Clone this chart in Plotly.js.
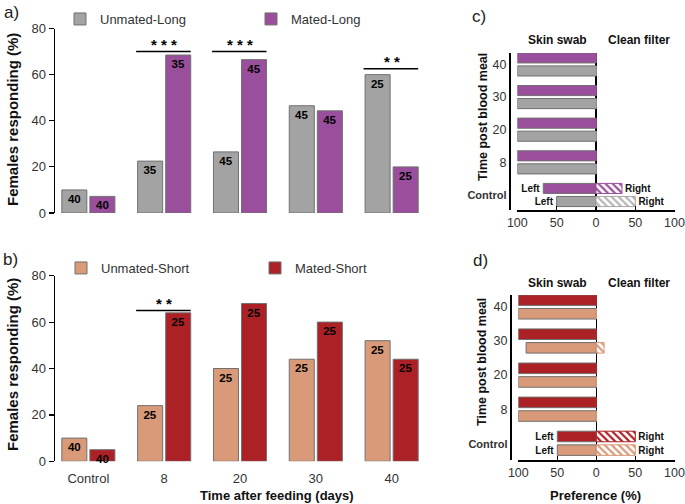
<!DOCTYPE html>
<html><head><meta charset="utf-8">
<script src="https://cdn.plot.ly/plotly-3.0.1.min.js"></script>
<style>html,body{margin:0;padding:0;background:#fff}</style>
</head><body><div id="chart" style="width:685px;height:504px"></div>
<script>
// ---------- data ----------
const cats = ['Control', '8', '20', '30', '40'];
// panel a (long-photoperiod females, % responding)
const unmatedLong = [10, 22.5, 26.5, 46.5, 60];
const matedLong = [7.2, 68.5, 66.5, 44.3, 20];
const nUnmatedLong = [40, 35, 45, 45, 25];
const nMatedLong = [40, 35, 45, 45, 25];
// panel b (short-photoperiod females)
const unmatedShort = [10, 24, 40, 44, 52];
const matedShort = [5, 64, 68, 60, 44];
const nUnmatedShort = [40, 25, 25, 25, 25];
const nMatedShort = [40, 25, 25, 25, 25];
// significance marks
const sigA_cat = [1, 2, 4];
const sigA_text = ['* * *', '* * *', '* *'];
const sigA_y = [70, 70, 62.6];
const sigB_cat = [1];
const sigB_text = ['* *'];
const sigB_y = [65];
// panels c/d: preference (%), rows bottom->top
const prefRows = ['Control', '8', '20', '30', '40'];
const prefTickVals = [-100, -50, 0, 50, 100];
const prefTickText = ['100', '50', '0', '50', '100'];
const matedLongSkin = [67, 100, 100, 100, 100];
const matedLongFilter = [33, 0, 0, 0, 0];
const unmatedLongSkin = [50, 100, 100, 100, 100];
const unmatedLongFilter = [50, 0, 0, 0, 0];
const matedShortSkin = [50, 100, 100, 100, 100];
const matedShortFilter = [50, 0, 0, 0, 0];
const unmatedShortSkin = [50, 100, 100, 90, 100];
const unmatedShortFilter = [50, 0, 0, 10, 0];

// ---------- styles ----------
const FONT = 'Liberation Sans, Arial, sans-serif';
const GRAY = '#a3a3a3', PURPLE = '#9a4f9c', SALMON = '#d99a79', RED = '#ab2125';
const EDGE = '#707070';
const W = 685, H = 504;
const px = v => v / W, py = v => 1 - v / H;

function vbar(name, y, n, color, xa, ya, off, leg) {
  return {
    type: 'bar', name: name, x: cats, y: y, xaxis: xa, yaxis: ya,
    width: 0.33, offset: off,
    marker: {color: color, line: {color: EDGE, width: 1}},
    text: n.map(String), textposition: 'inside', insidetextanchor: 'end',
    constraintext: 'none', textangle: 0,
    textfont: {family: FONT, size: 11.5, color: '#000', weight: 'bold'},
    legend: leg, hoverinfo: 'skip', cliponaxis: false
  };
}
const idx = prefRows.map((_, i) => i);
function hbar(vals, color, xa, ya, off, side, hatch, labelCtl) {
  const sign = side === 'left' ? -1 : 1;
  const m = {color: hatch ? '#fff' : color, line: {color: hatch ? color : EDGE, width: 1}};
  if (hatch) m.pattern = {shape: '\\', fgcolor: hatch, bgcolor: '#fff', size: 5, solidity: 0.45};
  return {
    type: 'bar', orientation: 'h', x: vals.map(v => sign * v), y: idx,
    xaxis: xa, yaxis: ya, width: 0.31, offset: off, marker: m,
    text: prefRows.map((r, i) => r === 'Control' ? labelCtl : ''),
    textposition: 'outside', constraintext: 'none', cliponaxis: false, textangle: 0,
    textfont: {family: FONT, size: 10, color: '#111', weight: 'bold'},
    showlegend: false, hoverinfo: 'skip'
  };
}

const traces = [
  vbar('Unmated-Long', unmatedLong, nUnmatedLong, GRAY, 'x', 'y', -0.35, 'legend'),
  vbar('Mated-Long', matedLong, nMatedLong, PURPLE, 'x', 'y', 0.02, 'legend'),
  vbar('Unmated-Short', unmatedShort, nUnmatedShort, SALMON, 'x2', 'y2', -0.35, 'legend2'),
  vbar('Mated-Short', matedShort, nMatedShort, RED, 'x2', 'y2', 0.02, 'legend2'),
  hbar(matedLongSkin, PURPLE, 'x3', 'y3', 0.045, 'left', null, 'Left'),
  hbar(matedLongFilter, PURPLE, 'x3', 'y3', 0.045, 'right', PURPLE, 'Right'),
  hbar(unmatedLongSkin, GRAY, 'x3', 'y3', -0.355, 'left', null, 'Left'),
  hbar(unmatedLongFilter, '#a8a8a8', 'x3', 'y3', -0.355, 'right', '#b5b5b5', 'Right'),
  hbar(matedShortSkin, RED, 'x4', 'y4', 0.045, 'left', null, 'Left'),
  hbar(matedShortFilter, RED, 'x4', 'y4', 0.045, 'right', RED, 'Right'),
  hbar(unmatedShortSkin, SALMON, 'x4', 'y4', -0.355, 'left', null, 'Left'),
  hbar(unmatedShortFilter, SALMON, 'x4', 'y4', -0.355, 'right', SALMON, 'Right')
];

const tickF = {family: FONT, size: 13, color: '#333'};
const prefTickF = {family: FONT, size: 12.5, color: '#333'};
function catX(domain, showLabels) {
  return {domain: domain, range: [-0.44, 4.44], type: 'category', showline: false,
    ticks: showLabels ? 'outside' : '', ticklen: 5, tickcolor: 'rgba(0,0,0,0)',
    showticklabels: showLabels, showgrid: false, zeroline: false, tickfont: tickF, fixedrange: true};
}
function pctY(domain, anchor) {
  return {domain: domain, range: [0, 80], anchor: anchor, showline: true, linecolor: '#000', linewidth: 1.5,
    ticks: 'outside', ticklen: 5, tickwidth: 1.2, tickcolor: '#000', tickvals: [0, 20, 40, 60, 80],
    showgrid: false, zeroline: false, tickfont: tickF, fixedrange: true};
}
// the last tick label ("100" at the right edge) is hidden by Plotly because it touches the
// page edge, so it is written as an axis-referenced annotation instead
function prefX(domain, anchor) {
  return {domain: domain, range: [-100, 100.6], anchor: anchor, showline: true, linecolor: '#000', linewidth: 1.5,
    ticks: 'inside', ticklen: 4, tickcolor: '#000', tickvals: prefTickVals,
    ticktext: prefTickText.map((t, i) => i === prefTickText.length - 1 ? '' : t),
    showgrid: false, zeroline: true,
    zerolinecolor: '#000', zerolinewidth: 1.5, tickfont: prefTickF, fixedrange: true};
}
function prefY(domain, range, pos) {
  return {domain: domain, range: range, anchor: 'free', position: pos, showline: true,
    linecolor: '#000', linewidth: 1.5, ticks: '', tickvals: idx,
    ticktext: prefRows.map(r => r === 'Control' ? '<b><span style="font-size:11px">Control</span></b>' : r),
    showgrid: false, zeroline: false, tickfont: {family: FONT, size: 12.5, color: '#333'}, fixedrange: true};
}

const shapes = [], anns = [];
function sig(cat, txt, yv, xa, ya) {
  cat.forEach((c, i) => {
    shapes.push({type: 'line', xref: xa, yref: ya, x0: c - 0.37, x1: c + 0.35, y0: yv[i], y1: yv[i],
      line: {color: '#000', width: 1.5}});
    anns.push({xref: xa, yref: ya, x: c, y: yv[i], text: '<b>' + txt[i] + '</b>', showarrow: false,
      yanchor: 'bottom', yshift: -3, font: {family: FONT, size: 15, color: '#000'}});
  });
}
sig(sigA_cat, sigA_text, sigA_y, 'x', 'y');
sig(sigB_cat, sigB_text, sigB_y, 'x2', 'y2');
[['x3', 210], ['x4', 460]].forEach(([xa, axisY]) => {
  const last = prefTickVals.length - 1;
  anns.push({xref: xa, yref: 'paper', x: prefTickVals[last], y: py(axisY), text: prefTickText[last],
    showarrow: false, xanchor: 'center', yanchor: 'top', yshift: -4, font: prefTickF});
});

function label(x, y, text, size, bold, angle) {
  anns.push({xref: 'paper', yref: 'paper', x: px(x), y: py(y), text: bold ? '<b>' + text + '</b>' : text,
    showarrow: false, xanchor: 'center', yanchor: 'middle', textangle: angle || 0,
    font: {family: FONT, size: size, color: bold ? '#111' : '#222'}});
}
label(11, 12, 'a)', 17);
label(10, 259, 'b)', 17);
label(479, 16, 'c)', 17);
label(480, 260, 'd)', 17);
label(12, 120, 'Females responding (%)', 15, true, -90);
label(12, 365, 'Females responding (%)', 15, true, -90);
label(277, 495, 'Time after feeding (days)', 13, true);
label(595, 495, 'Preference (%)', 13, true);
label(557, 40, 'Skin swab', 12, true);
label(639, 40, 'Clean filter', 12, true);
label(557, 283, 'Skin swab', 12, true);
label(639, 283, 'Clean filter', 12, true);
label(483, 117, 'Time post blood meal', 12.5, true, -90);
label(482, 362, 'Time post blood meal', 12.5, true, -90);

const legendBase = {orientation: 'h', xanchor: 'left', yanchor: 'middle', bgcolor: 'rgba(0,0,0,0)',
  font: {family: FONT, size: 13, color: '#333'}, entrywidthmode: 'pixels', itemclick: false};

const layout = {
  width: W, height: H, margin: {l: 0, r: 0, t: 0, b: 0}, paper_bgcolor: '#fff', plot_bgcolor: 'rgba(0,0,0,0)',
  barmode: 'overlay', font: {family: FONT, color: '#333'}, showlegend: true,
  xaxis: catX([px(55), px(425)], false),
  yaxis: pctY([1 - 213 / H, 1 - 28.5 / H], 'x'),
  xaxis2: Object.assign(catX([px(55), px(425)], true), {anchor: 'y2'}),
  yaxis2: pctY([1 - 461.3 / H, 1 - 275.7 / H], 'x2'),
  xaxis3: prefX([px(517.3), px(675.2)], 'y3'),
  yaxis3: prefY([1 - 210 / H, 1 - 53 / H], [-0.46, 4.35], px(509)),
  xaxis4: prefX([px(518.3), px(674.8)], 'y4'),
  yaxis4: prefY([1 - 460 / H, 1 - 295 / H], [-0.49, 4.35], px(510)),
  legend: Object.assign({}, legendBase, {x: px(60), y: py(19), entrywidth: 146}),
  legend2: Object.assign({}, legendBase, {x: px(61), y: py(268), entrywidth: 149}),
  shapes: shapes, annotations: anns
};
Plotly.newPlot('chart', traces, layout, {staticPlot: true, displayModeBar: false});
</script></body></html>
